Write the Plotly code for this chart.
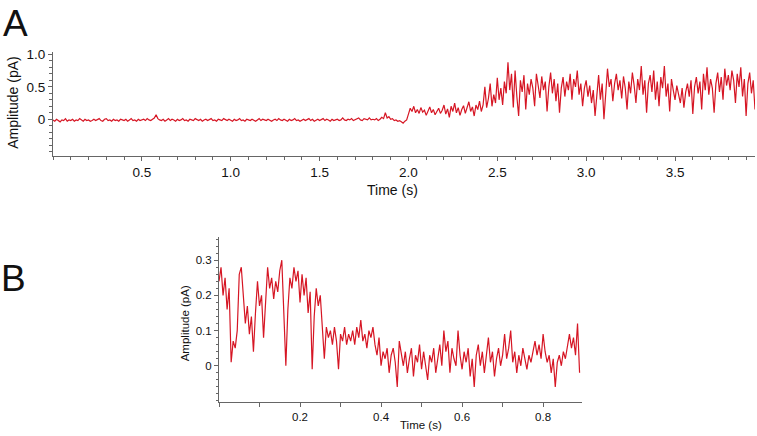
import plotly.graph_objects as go

W, H = 757, 436

# ---------------- Panel A data (sampled every 0.01 s, from 0 s) ----------------
DT_A = 0.01
amp_a_baseline = [
    -0.01,-0.03,0.00,-0.02,-0.04,-0.01,-0.02,0.01,-0.03,-0.01,
    -0.02,0.00,-0.03,-0.01,-0.02,0.01,-0.01,-0.03,0.00,-0.02,
    -0.01,-0.03,-0.02,0.00,-0.02,-0.01,0.01,-0.02,-0.03,0.00,
    0.01,-0.02,-0.01,-0.03,0.00,-0.02,-0.01,-0.03,0.00,-0.01,
    -0.02,0.00,-0.03,-0.01,0.01,-0.02,-0.01,-0.03,0.00,-0.02,
    -0.01,0.00,-0.02,0.01,-0.01,-0.02,0.00,0.02,0.07,0.01,
    -0.01,-0.02,0.00,-0.03,-0.01,0.01,-0.02,0.00,-0.01,-0.03,
    0.00,-0.02,-0.01,0.01,-0.02,-0.01,-0.03,0.00,-0.01,-0.02,
    0.01,-0.01,-0.02,0.00,-0.03,-0.01,0.00,-0.02,-0.01,0.01,
    -0.02,-0.01,-0.03,0.00,-0.01,-0.02,0.01,-0.01,-0.02,0.00,
    -0.01,-0.03,0.00,-0.02,-0.01,0.01,-0.02,-0.01,-0.03,0.00,
    -0.01,-0.02,0.00,-0.01,-0.03,-0.01,0.01,-0.02,0.00,-0.01,
    -0.02,0.00,-0.01,-0.03,-0.01,0.00,-0.02,0.01,-0.01,-0.02,
    0.00,-0.01,-0.03,0.00,-0.02,-0.01,0.01,-0.02,-0.01,-0.03,
    -0.01,0.00,-0.02,-0.01,0.01,-0.02,0.00,-0.03,-0.01,0.00,
    -0.02,-0.01,0.01,-0.02,0.00,-0.01,-0.03,0.00,-0.02,-0.01,
    0.00,-0.02,-0.01,0.02,-0.01,-0.02,0.00,-0.01,0.01,-0.02,
    -0.01,0.00,0.02,-0.01,-0.02,0.01,0.00,-0.01,0.02,-0.01,
    0.00,-0.01,0.01,-0.02,0.00,0.03,0.01,0.10,0.02,0.04,
    0.00,0.01,-0.02,-0.01,-0.03,-0.02,-0.04,-0.06,-0.03,-0.01,
]
amp_a_response = [
    0.08,0.17,0.12,0.20,0.10,0.15,0.09,0.18,0.11,0.14,
    0.06,0.13,0.19,0.10,0.15,0.07,0.12,0.17,0.09,0.14,
    0.22,0.08,0.16,0.03,0.20,0.12,0.25,0.10,0.18,0.06,
    0.15,0.21,0.09,0.17,0.27,0.12,0.19,0.05,0.22,0.15,
    0.28,0.12,0.22,0.50,0.18,0.32,0.55,0.20,0.38,0.25,
    0.64,0.30,0.48,0.22,0.58,0.40,0.88,0.45,0.70,0.18,
    0.75,0.35,0.05,0.60,0.42,0.68,0.15,0.55,0.38,0.62,
    0.48,0.20,0.70,0.52,0.33,0.66,0.45,0.58,0.12,0.50,
    0.72,0.40,0.62,0.28,0.55,0.10,0.48,0.65,0.35,0.58,
    0.45,0.70,0.30,0.62,0.50,0.75,0.38,0.55,0.20,0.48,
    0.60,0.35,0.52,0.25,0.45,0.05,0.40,0.68,0.30,0.55,
    0.00,0.42,0.78,0.50,0.62,0.28,0.55,0.70,0.45,0.60,
    0.32,0.66,0.48,0.15,0.58,0.40,0.72,0.52,0.25,0.62,
    0.45,0.82,0.38,0.60,0.10,0.55,0.68,0.42,0.75,0.30,
    0.58,0.20,0.65,0.48,0.82,0.35,0.55,0.12,0.62,0.45,
    0.30,0.52,0.40,0.25,0.48,0.18,0.42,0.55,0.35,0.60,
    0.08,0.50,0.65,0.40,0.58,0.15,0.70,0.45,0.80,0.38,
    0.62,0.48,0.10,0.55,0.72,0.42,0.65,0.30,0.78,0.52,
    0.68,0.45,0.75,0.60,0.25,0.70,0.50,0.80,0.35,0.62,
    0.05,0.55,0.72,0.40,0.60,0.15,
]
amp_a = amp_a_baseline + amp_a_response
time_a = [round(i * DT_A, 4) for i in range(len(amp_a))]

# ---------------- Panel B data (sampled every 0.005 s, from 0 s) ----------------
DT_B = 0.005
amp_b = [
    0.24,0.28,0.20,0.25,0.16,0.22,0.01,0.07,0.05,0.10,
    0.26,0.28,0.20,0.12,0.17,0.09,0.14,0.04,0.15,0.24,
    0.17,0.20,0.08,0.18,0.28,0.22,0.25,0.19,0.24,0.21,
    0.27,0.30,0.12,0.00,0.16,0.25,0.22,0.28,0.24,0.27,
    0.18,0.26,0.20,0.25,0.15,0.21,-0.01,0.14,0.22,0.17,
    0.20,0.09,0.02,0.11,0.08,0.10,0.06,0.11,0.07,-0.01,
    0.09,0.07,0.11,0.06,0.09,0.07,0.10,0.06,0.11,0.08,
    0.13,0.07,0.09,0.05,0.10,0.08,0.11,0.06,0.03,0.08,
    0.00,0.04,0.02,0.05,-0.02,0.03,0.05,0.01,-0.06,0.07,
    0.03,0.00,0.04,-0.02,0.02,0.05,-0.03,0.03,0.01,0.06,
    -0.01,0.04,0.00,-0.04,0.03,0.01,0.05,-0.02,0.02,0.06,
    0.00,0.10,0.04,0.07,-0.02,0.05,0.02,0.00,0.10,0.03,
    -0.01,0.04,0.01,0.05,-0.03,0.02,-0.06,0.03,0.06,0.00,
    0.04,-0.02,0.03,0.08,0.01,0.04,-0.03,0.02,0.05,0.00,
    0.03,0.09,0.02,0.05,0.10,0.01,0.04,-0.02,0.03,0.00,
    0.05,0.02,-0.01,0.03,0.01,0.04,0.07,0.03,0.06,0.02,
    0.09,0.04,0.01,0.03,-0.02,0.02,-0.06,0.01,0.03,0.00,
    0.04,0.02,0.06,0.09,0.05,0.08,0.03,0.12,-0.02,
]
time_b = [round(i * DT_B, 4) for i in range(len(amp_b))]

# tick labels
xticks_a = [0.5, 1.0, 1.5, 2.0, 2.5, 3.0, 3.5]
xtext_a = ["0.5", "1.0", "1.5", "2.0", "2.5", "3.0", "3.5"]
yticks_a = [0, 0.5, 1.0]
ytext_a = ["0", "0.5", "1.0"]
xticks_b = [0.2, 0.4, 0.6, 0.8]
xtext_b = ["0.2", "0.4", "0.6", "0.8"]
yticks_b = [0, 0.1, 0.2, 0.3]
ytext_b = ["0", "0.1", "0.2", "0.3"]

LINE = "rgb(214,22,36)"
AX = "#666666"
TXT = "#111111"
FONT = "Liberation Sans, Arial, sans-serif"

fig = go.Figure()
fig.add_trace(go.Scatter(x=time_a, y=amp_a, mode="lines",
                         line=dict(color=LINE, width=1.2), xaxis="x", yaxis="y",
                         showlegend=False, hoverinfo="skip"))
fig.add_trace(go.Scatter(x=time_b, y=amp_b, mode="lines",
                         line=dict(color=LINE, width=1.2), xaxis="x2", yaxis="y2",
                         showlegend=False, hoverinfo="skip"))

def px_x(p):
    return p / W

def px_y(p):
    return 1 - p / H

common = dict(showgrid=False, zeroline=False, showline=True, linecolor=AX,
              linewidth=1, ticks="outside", tickcolor=AX, tickwidth=1,
              tickmode="array", fixedrange=True)

fig.update_layout(
    width=W, height=H,
    margin=dict(l=0, r=0, t=0, b=0),
    paper_bgcolor="white", plot_bgcolor="white",
    font=dict(family=FONT, color=TXT),
    xaxis=dict(**common, domain=[px_x(53), px_x(755)], range=[0, 3.95],
               tickvals=xticks_a, ticktext=xtext_a, ticklen=4,
               tickfont=dict(size=13.5), anchor="y",
               minor=dict(tickmode="linear", tick0=0, dtick=0.1, ticks="outside",
                          ticklen=3, tickcolor=AX)),
    yaxis=dict(**common, domain=[px_y(153), px_y(48)], range=[-0.57, 1.03],
               tickvals=yticks_a, ticktext=ytext_a, ticklen=4,
               tickfont=dict(size=13.5), anchor="x",
               minor=dict(tickmode="linear", tick0=0, dtick=0.1, ticks="outside",
                          ticklen=3, tickcolor=AX)),
    xaxis2=dict(**common, domain=[px_x(219), px_x(582)], range=[0, 0.896],
                tickvals=xticks_b, ticktext=xtext_b, ticklen=4,
                tickfont=dict(size=11.5), anchor="y2",
                minor=dict(tickmode="linear", tick0=0, dtick=0.1, ticks="outside",
                           ticklen=4, tickcolor=AX)),
    yaxis2=dict(**common, domain=[px_y(402), px_y(235)], range=[-0.104, 0.365],
                tickvals=yticks_b, ticktext=ytext_b, ticklen=4,
                tickfont=dict(size=11.5), anchor="x2",
                minor=dict(tickmode="linear", tick0=0, dtick=0.02, ticks="outside",
                           ticklen=2, tickcolor=AX)),
)

ann = [
    dict(text="A", x=px_x(15), y=px_y(19), size=37, angle=0),
    dict(text="B", x=px_x(13), y=px_y(277), size=37, angle=0),
    dict(text="Amplitude (pA)", x=px_x(13), y=px_y(99), size=14, angle=-90),
    dict(text="Time (s)", x=px_x(392), y=px_y(187), size=14, angle=0),
    dict(text="Amplitude (pA)", x=px_x(185), y=px_y(322), size=11.5, angle=-90),
    dict(text="Time (s)", x=px_x(421), y=px_y(425), size=11.5, angle=0),
]
for a in ann:
    fig.add_annotation(text=a["text"], x=a["x"], y=a["y"], xref="paper", yref="paper",
                       xanchor="center", yanchor="middle", showarrow=False,
                       textangle=a["angle"], font=dict(size=a["size"], family=FONT,
                                                        color=TXT))

fig.write_html("out.html", config={"displayModeBar": False},
               post_script="document.body.style.margin='0';document.body.style.overflow='hidden';")
